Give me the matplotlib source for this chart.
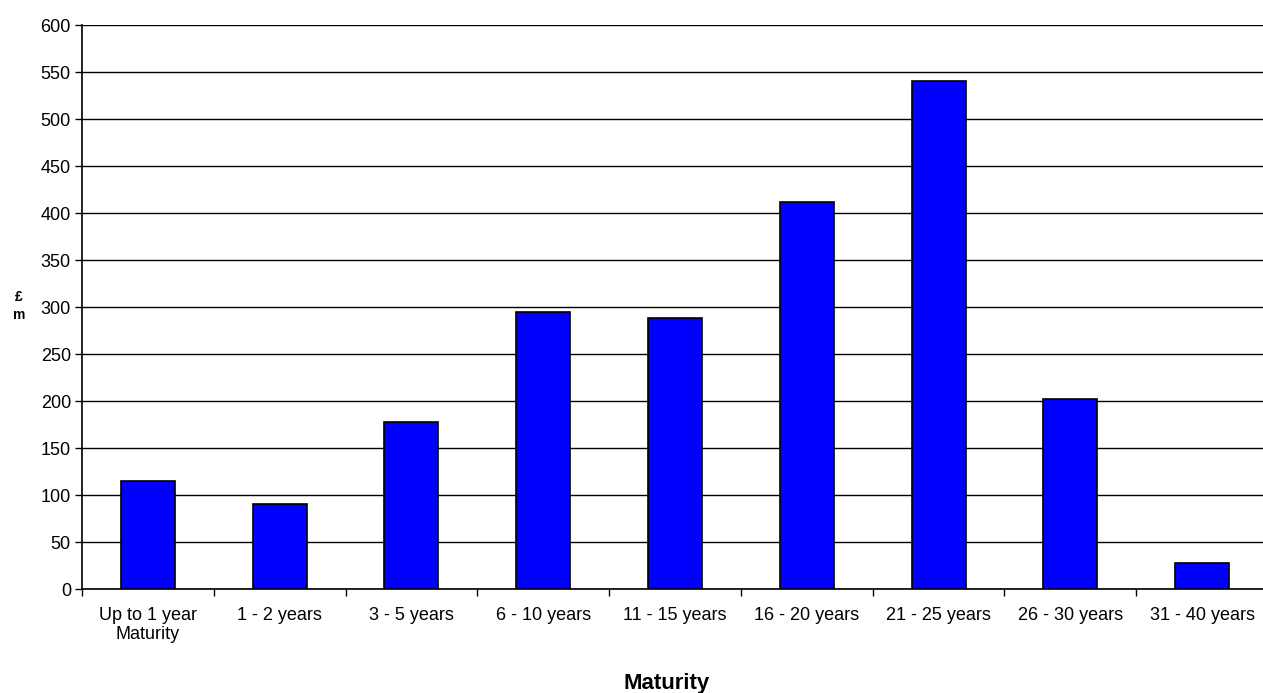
import matplotlib
matplotlib.use("Agg")
import matplotlib.pyplot as plt
import numpy as np

plt.rcParams['font.family'] = ['Liberation Sans', 'DejaVu Sans']

categories = ["Up to 1 year\nMaturity", "1 - 2 years", "3 - 5 years", "6 - 10 years",
              "11 - 15 years", "16 - 20 years", "21 - 25 years", "26 - 30 years",
              "31 - 40 years"]
values = [115.5, 90.5, 178, 295, 289, 411.5, 541, 202, 28]
y_ticks = list(range(0, 601, 50))

W, H = 1263, 693
fig = plt.figure(figsize=(W / 100, H / 100), dpi=100)
left, right, top, bottom = 82, 1268, 25.3, 589.3
ax = fig.add_axes([left / W, 1 - bottom / H, (right - left) / W, (bottom - top) / H])

x = np.arange(len(categories))
ax.bar(x, values, width=0.41, color='#0000ff', edgecolor='black', linewidth=1.2, zorder=3)

ax.set_xlim(-0.5, len(categories) - 0.5)
ax.set_ylim(0, 600)
ax.set_yticks(y_ticks)
ax.yaxis.grid(True, color='black', linewidth=1.0, zorder=0)
ax.set_axisbelow(True)

# category labels sit between boundary ticks
ax.set_xticks(np.arange(len(categories) + 1) - 0.5)
ax.set_xticklabels([])
ax.set_xticks(x, minor=True)
ax.set_xticklabels(categories, minor=True, fontsize=13, linespacing=1.15)
ax.tick_params(axis='x', which='minor', length=0, pad=13)
ax.tick_params(axis='x', which='major', length=5, width=1, direction='out', color='black')
ax.tick_params(axis='y', length=5, width=1, direction='out', labelsize=13, pad=3)

for s in ['top', 'right']:
    ax.spines[s].set_visible(False)
for s in ['left', 'bottom']:
    ax.spines[s].set_color('black')
    ax.spines[s].set_linewidth(1.2)

fig.text(19 / W, 1 - 306 / H, "£\nm", fontsize=10, fontweight='bold', ha='center', va='center',
         linespacing=1.3)
fig.text(667 / W, 1 - 683 / H, "Maturity", fontsize=16, fontweight='bold', ha='center', va='center')

fig.savefig("out.png", dpi=100)
